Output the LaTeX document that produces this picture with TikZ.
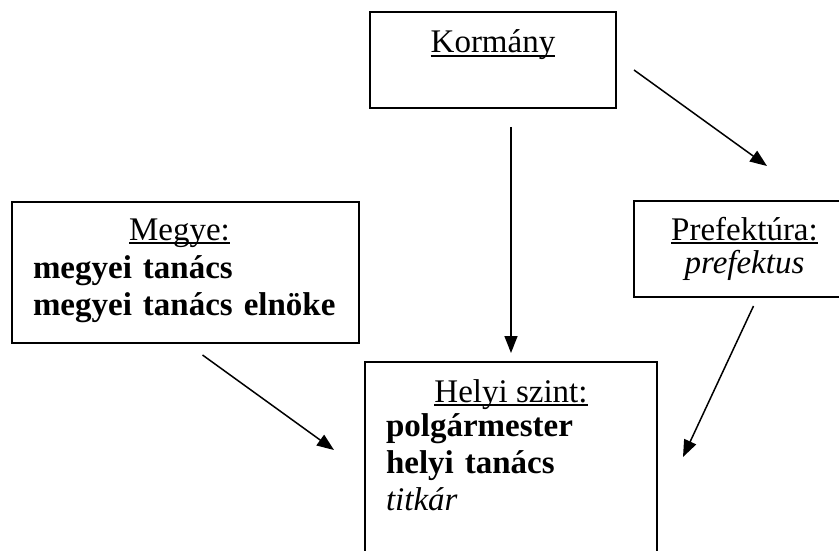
\documentclass[tikz,border=0pt]{standalone}
\usepackage{fontspec}
\setmainfont{Liberation Serif}
\usetikzlibrary{arrows.meta}

\newcommand{\ulhead}[1]{\setbox0\hbox{#1}\rlap{\rule[-0.13em]{\wd0}{0.06em}}\box0}

\begin{document}
\begin{tikzpicture}[x=1pt, y=-1pt,
  every node/.style = {font=\fontsize{33}{37}\selectfont, inner sep=0pt, outer sep=0pt},
  box/.style = {draw, line width=1.8pt, rectangle, anchor=north west},
  head/.style = {anchor=base},
  body/.style = {anchor=base west, text width=400pt, align=left},
  arr/.style = {-{Triangle[length=17pt, width=13pt]}, line width=1.5pt}]
\path[use as bounding box, clip] (0,0) rectangle (839,551);

% boxes
\node[box, minimum width=246pt, minimum height=96pt] (kormany) at (370,12) {};
\node[box, minimum width=347pt, minimum height=141pt] (megye) at (12,202) {};
\node[box, minimum width=221pt, minimum height=96pt] (prefektura) at (634,201) {};
\node[box, minimum width=292pt, minimum height=220pt] (helyi) at (365,362) {};

% texts
\node[head] (kormanyhead) at ([shift={(0,41)}]kormany.north) {\ulhead{Kormány}};
\node[head] (megyehead) at ([shift={(-6,38)}]megye.north) {\ulhead{Megye:}};
\node[body] (megyebody) at ([shift={(21,76)}]megye.north west)
  {\textbf{megyei tanács}\\ \textbf{megyei tanács elnöke}};
\node[head] (prefhead) at ([shift={(0,39)}]prefektura.north) {\ulhead{Prefektúra:}};
\node[head] (prefbody) at ([shift={(0,72)}]prefektura.north) {\textit{prefektus}};
\node[head] (helyihead) at ([shift={(0,40)}]helyi.north) {\ulhead{Helyi szint:}};
\node[body] (helyibody) at ([shift={(21,74)}]helyi.north west)
  {\textbf{polgármester}\\ \textbf{helyi tanács}\\ \textit{titkár}};

% arrows
\draw[arr] ([shift={(0,19)}]helyi.north |- kormany.south) -- ([shift={(0,-9)}]helyi.north);
\draw[arr] ([shift={(18,10)}]kormany.east) -- ([shift={(133,-35)}]prefektura.north west);
\draw[arr] ([shift={(17,12)}]megye.south) -- ([shift={(-31,88)}]helyi.north west);
\draw[arr] ([shift={(9,9)}]prefektura.south) -- ([shift={(26,95)}]helyi.north east);
\end{tikzpicture}
\end{document}
